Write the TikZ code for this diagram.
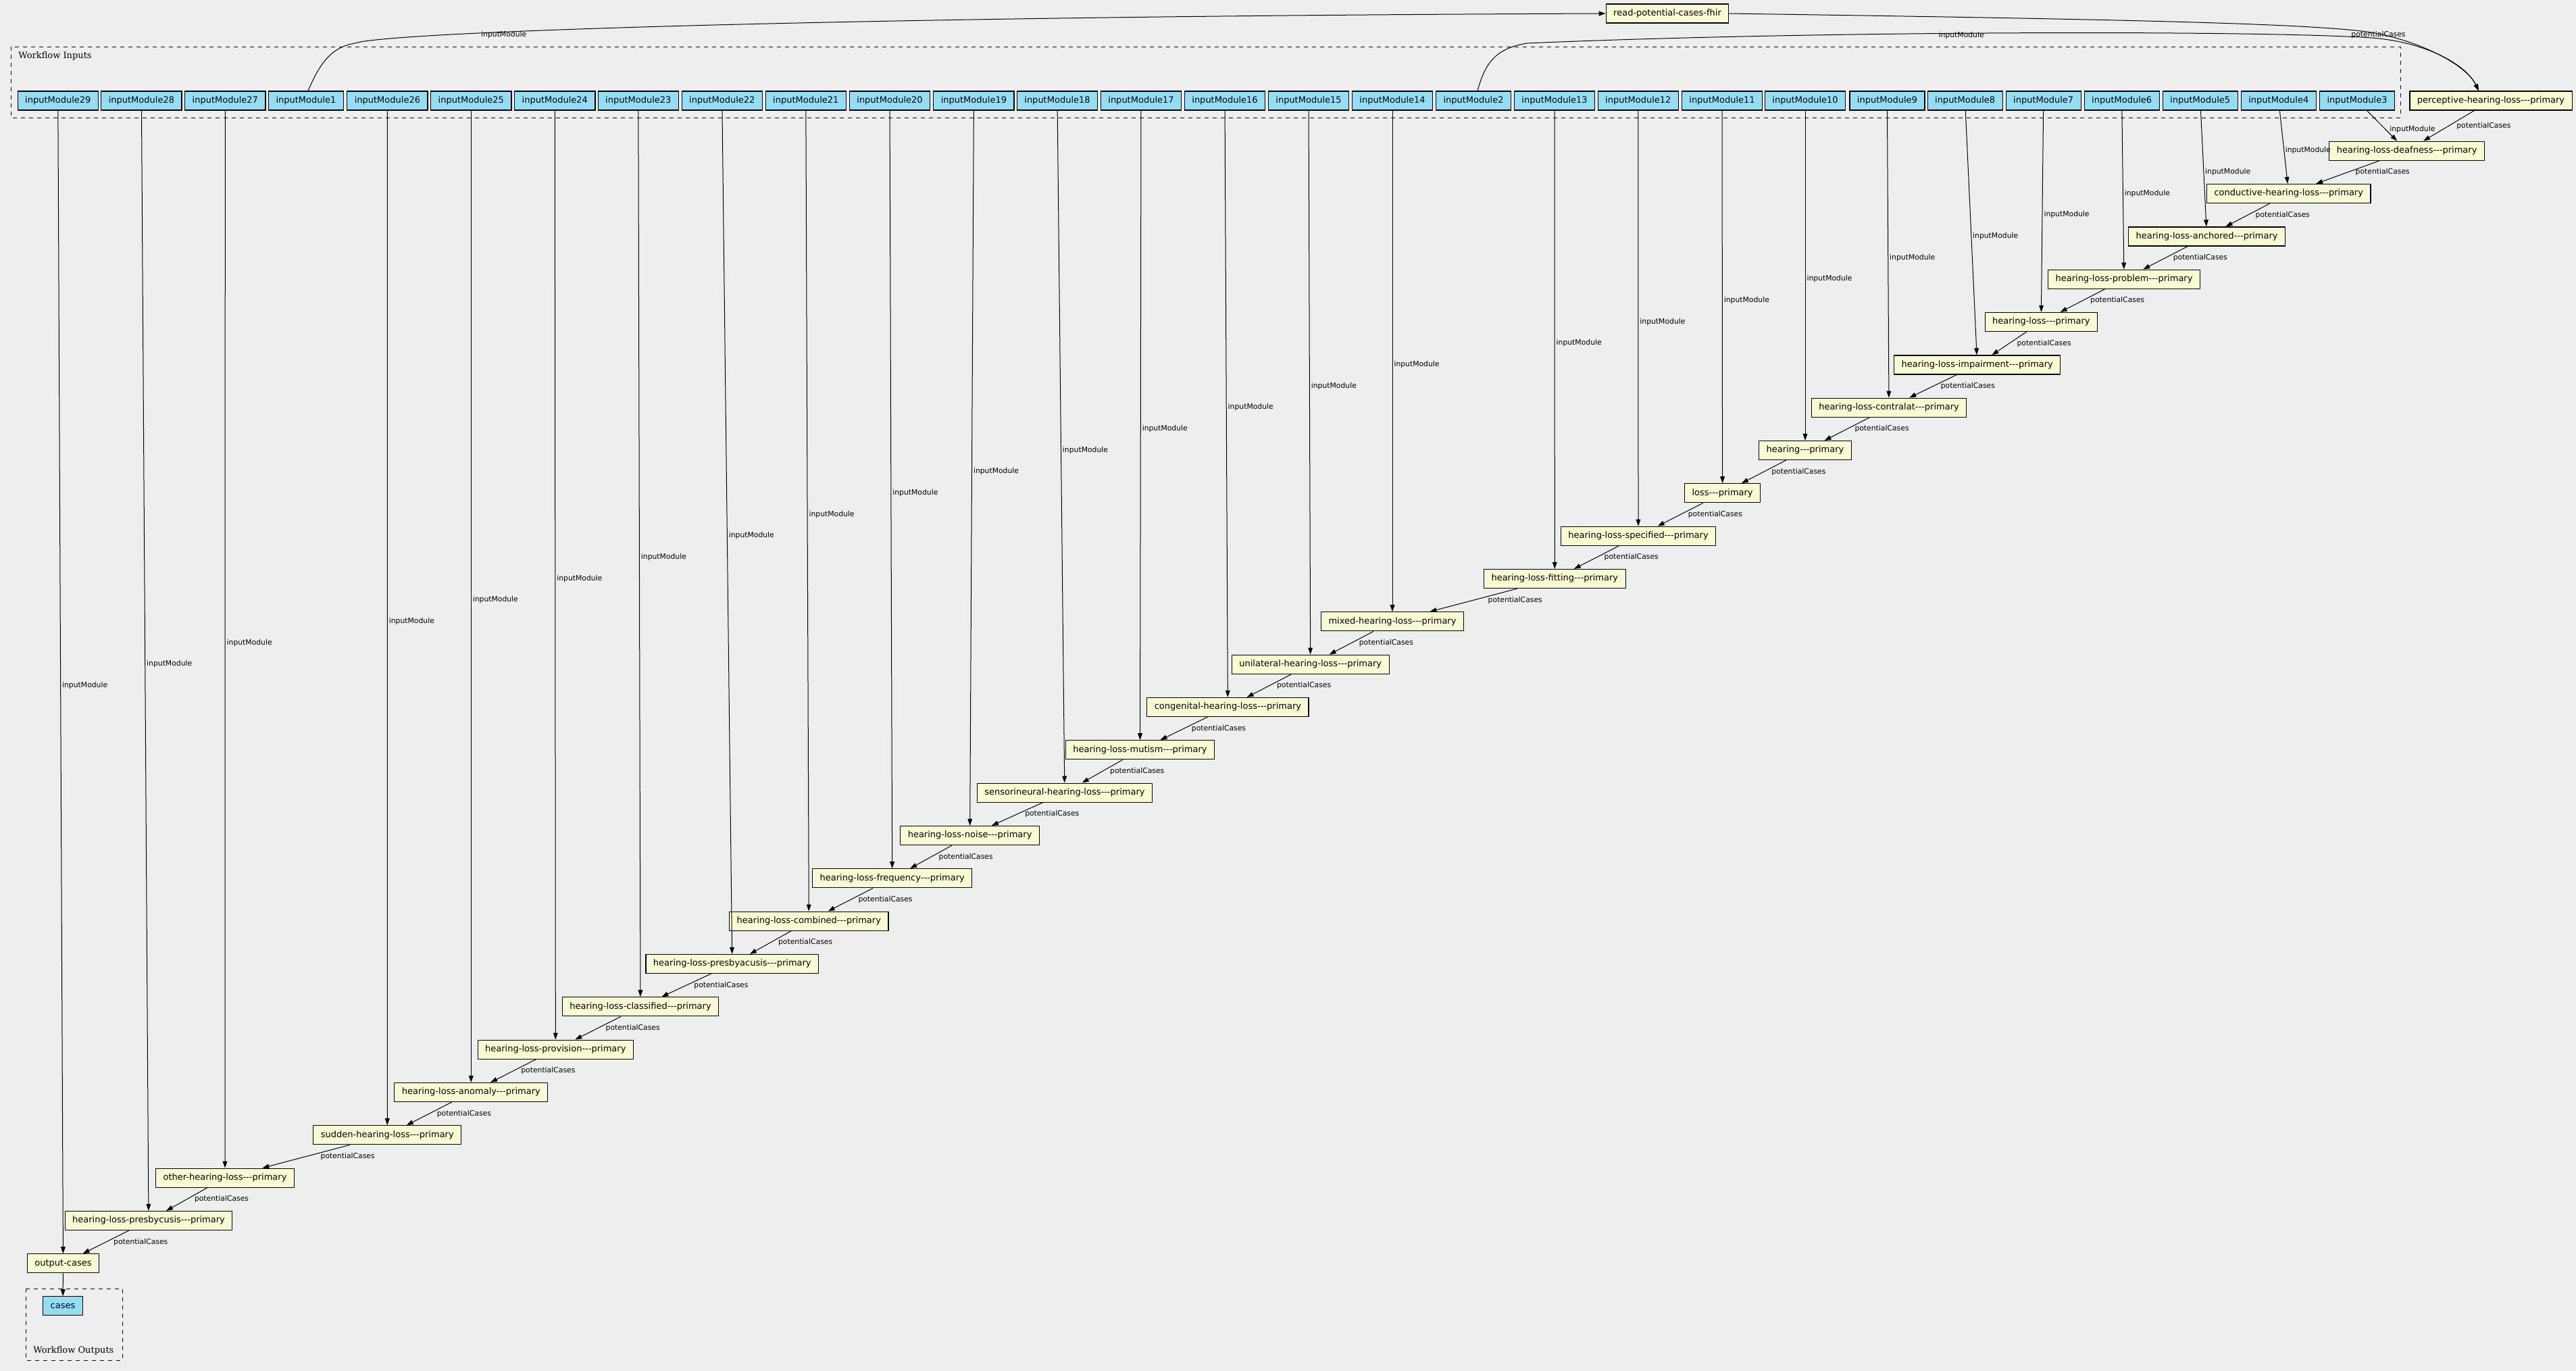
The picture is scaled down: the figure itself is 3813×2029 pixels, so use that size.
\documentclass[tikz,border=0pt]{standalone}
\usepackage{fontspec}
\setmainfont{DejaVu Sans}[Ligatures=TeXOff]
\newfontfamily\clusterfont{DejaVu Serif}
\usetikzlibrary{arrows.meta}
\definecolor{bggray}{HTML}{EEEEEE}
\definecolor{inblue}{HTML}{94DDF4}
\definecolor{stepyellow}{HTML}{FAFAD2}
\tikzset{
  inbox/.style={draw=black, line width=0.6pt, fill=inblue, font=\fontsize{6.5}{7.8}\selectfont,
    inner xsep=5.5pt, inner ysep=0pt, minimum height=14pt, text height=4.9pt, text depth=1.5pt},
  stepbox/.style={inbox, fill=stepyellow},
  flow/.style={line width=0.5pt, -{Triangle[length=5pt,width=3.4pt]}},
  lbl/.style={font=\fontsize{5.4}{6.5}\selectfont, inner sep=0pt},
  inlbl/.style={lbl, anchor=west, xshift=1pt, yshift=-2.5pt},
  pclbl/.style={lbl, anchor=west, xshift=5.5pt},
  cluster/.style={dash pattern=on 3pt off 3pt, line width=0.5pt},
}
\begin{document}
\begin{tikzpicture}[x=0.5pt,y=-0.5pt]
    \fill[bggray] (0,0) rectangle (3813,2029);
    % workflow inputs / outputs
    \draw[cluster] (16,69) rectangle (3553,174);
    \node[anchor=base west, inner sep=0pt, font=\clusterfont\fontsize{6.5}{7.8}\selectfont] (inlabel) at (27,86.5) {Workflow Inputs};
    \draw[cluster] (38,1907) rectangle (181,2013);
    \node[anchor=base west, inner sep=0pt, font=\clusterfont\fontsize{6.5}{7.8}\selectfont] (outlabel) at (49,2002.5) {Workflow Outputs};

    \node[inbox] (im29) at (85.8,149) {inputModule29};
    \node[inbox] (im28) at (209.4,149) {inputModule28};
    \node[inbox] (im27) at (333.3,149) {inputModule27};
    \node[inbox] (im1) at (453,149) {inputModule1};
    \node[inbox] (im26) at (573.4,149) {inputModule26};
    \node[inbox] (im25) at (697.3,149) {inputModule25};
    \node[inbox] (im24) at (821.3,149) {inputModule24};
    \node[inbox] (im23) at (944.8,149) {inputModule23};
    \node[inbox] (im22) at (1068.8,149) {inputModule22};
    \node[inbox] (im21) at (1192.8,149) {inputModule21};
    \node[inbox] (im20) at (1317,149) {inputModule20};
    \node[inbox] (im19) at (1441.4,149) {inputModule19};
    \node[inbox] (im18) at (1565,149) {inputModule18};
    \node[inbox] (im17) at (1689,149) {inputModule17};
    \node[inbox] (im16) at (1813,149) {inputModule16};
    \node[inbox] (im15) at (1937,149) {inputModule15};
    \node[inbox] (im14) at (2061,149) {inputModule14};
    \node[inbox] (im2) at (2181,149) {inputModule2};
    \node[inbox] (im13) at (2301,149) {inputModule13};
    \node[inbox] (im12) at (2424.8,149) {inputModule12};
    \node[inbox] (im11) at (2549,149) {inputModule11};
    \node[inbox] (im10) at (2672,149) {inputModule10};
    \node[inbox] (im9) at (2793.4,149) {inputModule9};
    \node[inbox] (im8) at (2908.6,149) {inputModule8};
    \node[inbox] (im7) at (3024.7,149) {inputModule7};
    \node[inbox] (im6) at (3140.7,149) {inputModule6};
    \node[inbox] (im5) at (3256.7,149) {inputModule5};
    \node[inbox] (im4) at (3372.8,149) {inputModule4};
    \node[inbox] (im3) at (3489,149) {inputModule3};

    \node[stepbox] (readfhir) at (2468,20) {read-potential-cases-fhir};
    \node[stepbox] (perceptive) at (3687,149) {perceptive-hearing-loss---primary};
    \node[stepbox] (deafness) at (3562.6,223.2) {hearing-loss-deafness---primary};
    \node[stepbox] (conductive) at (3387.7,286.5) {conductive-hearing-loss---primary};
    \node[stepbox] (anchored) at (3266.6,349.9) {hearing-loss-anchored---primary};
    \node[stepbox] (problem) at (3144,413.2) {hearing-loss-problem---primary};
    \node[stepbox] (hlprim) at (3021.3,476.5) {hearing-loss---primary};
    \node[stepbox] (impairment) at (2926.7,539.9) {hearing-loss-impairment---primary};
    \node[stepbox] (contralat) at (2796,603.2) {hearing-loss-contralat---primary};
    \node[stepbox] (hearing) at (2672,666.5) {hearing---primary};
    \node[stepbox] (loss) at (2549.6,729.8) {loss---primary};
    \node[stepbox] (specified) at (2425,793.2) {hearing-loss-specified---primary};
    \node[stepbox] (fitting) at (2301.3,856.5) {hearing-loss-fitting---primary};
    \node[stepbox] (mixed) at (2061,919.8) {mixed-hearing-loss---primary};
    \node[stepbox] (unilateral) at (1939.7,983.2) {unilateral-hearing-loss---primary};
    \node[stepbox] (congenital) at (1817.4,1046.5) {congenital-hearing-loss---primary};
    \node[stepbox] (mutism) at (1687.5,1109.8) {hearing-loss-mutism---primary};
    \node[stepbox] (sensorineural) at (1575.9,1173.1) {sensorineural-hearing-loss---primary};
    \node[stepbox] (noise) at (1435.6,1236.5) {hearing-loss-noise---primary};
    \node[stepbox] (frequency) at (1320.7,1299.8) {hearing-loss-frequency---primary};
    \node[stepbox] (combined) at (1197.3,1363.1) {hearing-loss-combined---primary};
    \node[stepbox] (presbyacusis) at (1083.8,1426.5) {hearing-loss-presbyacusis---primary};
    \node[stepbox] (classified) at (948,1489.8) {hearing-loss-classified---primary};
    \node[stepbox] (provision) at (822.3,1553.1) {hearing-loss-provision---primary};
    \node[stepbox] (anomaly) at (697.3,1616.5) {hearing-loss-anomaly---primary};
    \node[stepbox] (sudden) at (573.3,1679.8) {sudden-hearing-loss---primary};
    \node[stepbox] (other) at (333,1743.1) {other-hearing-loss---primary};
    \node[stepbox] (presbycusis) at (220,1806.5) {hearing-loss-presbycusis---primary};
    \node[stepbox] (outputcases) at (93.5,1869.8) {output-cases};
    \node[inbox] (cases) at (93,1932.8) {cases};

    % curved edges at the top
    \draw[flow] ([xshift=1.5pt]im1.north) .. controls (475,90) and (492,70) .. (525,64)
        .. controls (580,46) and (1300,24) .. (readfhir.west)
        node[lbl, pos=.3, yshift=-2pt] (im1lbl) {inputModule};
    \draw[flow] ([xshift=3pt]im2.north) .. controls (2198,95) and (2212,72) .. (2260,64)
        .. controls (2700,45) and (3350,45) .. (3510,56)
        node[lbl, pos=.44, yshift=-1.5pt] (im2lbl) {inputModule}
        .. controls (3590,62) and (3650,95) .. ([xshift=-9pt]perceptive.north);
    \draw[flow] (readfhir.east) .. controls (3100,28) and (3420,34) .. (3510,48)
        .. controls (3580,60) and (3650,95) .. ([xshift=-9pt]perceptive.north)
        node[lbl, pos=.05, yshift=-1pt] (fhirlbl) {potentialCases};

    % potentialCases chain
    \draw[flow] (perceptive) -- node[pclbl] {potentialCases} (deafness);
    \draw[flow] (deafness) -- node[pclbl] {potentialCases} (conductive);
    \draw[flow] (conductive) -- node[pclbl] {potentialCases} (anchored);
    \draw[flow] (anchored) -- node[pclbl] {potentialCases} (problem);
    \draw[flow] (problem) -- node[pclbl] {potentialCases} (hlprim);
    \draw[flow] (hlprim) -- node[pclbl] {potentialCases} (impairment);
    \draw[flow] (impairment) -- node[pclbl] {potentialCases} (contralat);
    \draw[flow] (contralat) -- node[pclbl] {potentialCases} (hearing);
    \draw[flow] (hearing) -- node[pclbl] {potentialCases} (loss);
    \draw[flow] (loss) -- node[pclbl] {potentialCases} (specified);
    \draw[flow] (specified) -- node[pclbl] {potentialCases} (fitting);
    \draw[flow] (fitting) -- node[pclbl, xshift=5pt] {potentialCases} (mixed);
    \draw[flow] (mixed) -- node[pclbl] {potentialCases} (unilateral);
    \draw[flow] (unilateral) -- node[pclbl] {potentialCases} (congenital);
    \draw[flow] (congenital) -- node[pclbl] {potentialCases} (mutism);
    \draw[flow] (mutism) -- node[pclbl] {potentialCases} (sensorineural);
    \draw[flow] (sensorineural) -- node[pclbl] {potentialCases} (noise);
    \draw[flow] (noise) -- node[pclbl] {potentialCases} (frequency);
    \draw[flow] (frequency) -- node[pclbl] {potentialCases} (combined);
    \draw[flow] (combined) -- node[pclbl] {potentialCases} (presbyacusis);
    \draw[flow] (presbyacusis) -- node[pclbl] {potentialCases} (classified);
    \draw[flow] (classified) -- node[pclbl] {potentialCases} (provision);
    \draw[flow] (provision) -- node[pclbl] {potentialCases} (anomaly);
    \draw[flow] (anomaly) -- node[pclbl] {potentialCases} (sudden);
    \draw[flow] (sudden) -- node[pclbl, xshift=5pt] {potentialCases} (other);
    \draw[flow] (other) -- node[pclbl] {potentialCases} (presbycusis);
    \draw[flow] (presbycusis) -- node[pclbl] {potentialCases} (outputcases);
    \draw[flow] (outputcases) -- (cases);

    % inputModule edges
    \draw[flow] (im3) -- node[inlbl, xshift=4.5pt] {inputModule} (deafness);
    \draw[flow] (im4) -- node[inlbl] {inputModule} (conductive);
    \draw[flow] (im5) -- node[inlbl] {inputModule} (anchored);
    \draw[flow] (im6) -- node[inlbl] {inputModule} (problem);
    \draw[flow] (im7) -- node[inlbl] {inputModule} (hlprim);
    \draw[flow] (im8) -- node[inlbl] {inputModule} (impairment);
    \draw[flow] (im9) -- node[inlbl] {inputModule} (contralat);
    \draw[flow] (im10) -- node[inlbl] {inputModule} (hearing);
    \draw[flow] (im11) -- node[inlbl] {inputModule} (loss);
    \draw[flow] (im12) -- node[inlbl] {inputModule} (specified);
    \draw[flow] (im13) -- node[inlbl] {inputModule} (fitting);
    \draw[flow] (im14) -- node[inlbl] {inputModule} (mixed);
    \draw[flow] (im15) -- node[inlbl] {inputModule} (unilateral);
    \draw[flow] (im16) -- node[inlbl] {inputModule} (congenital);
    \draw[flow] (im17) -- node[inlbl] {inputModule} (mutism);
    \draw[flow] (im18) -- node[inlbl] {inputModule} (sensorineural);
    \draw[flow] (im19) -- node[inlbl] {inputModule} (noise);
    \draw[flow] (im20) -- node[inlbl] {inputModule} (frequency);
    \draw[flow] (im21) -- node[inlbl] {inputModule} (combined);
    \draw[flow] (im22) -- node[inlbl] {inputModule} (presbyacusis);
    \draw[flow] (im23) -- node[inlbl] {inputModule} (classified);
    \draw[flow] (im24) -- node[inlbl] {inputModule} (provision);
    \draw[flow] (im25) -- node[inlbl] {inputModule} (anomaly);
    \draw[flow] (im26) -- node[inlbl] {inputModule} (sudden);
    \draw[flow] (im27) -- node[inlbl] {inputModule} (other);
    \draw[flow] (im28) -- node[inlbl] {inputModule} (presbycusis);
    \draw[flow] (im29) -- node[inlbl] {inputModule} (outputcases);
\end{tikzpicture}
\end{document}
